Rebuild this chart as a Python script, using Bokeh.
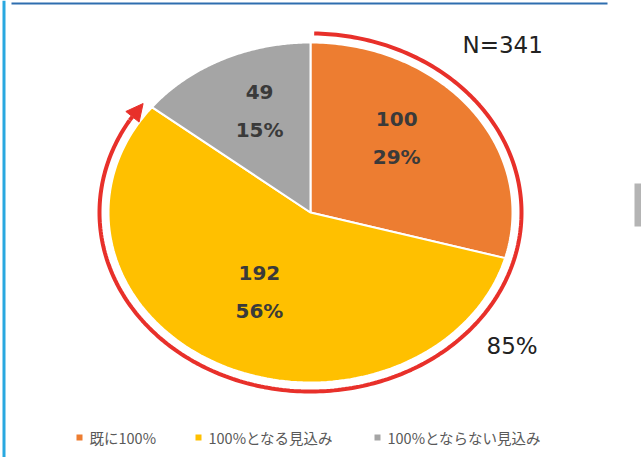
import numpy as np
from bokeh.plotting import figure
from bokeh.models import Range1d, Arrow, NormalHead
from bokeh.core.properties import value
from bokeh.embed import file_html
from bokeh.resources import INLINE

# ---- data ----
categories = ["既に100%", "100%となる見込み", "100%とならない見込み"]
counts = [100, 192, 49]
percents = ["29%", "56%", "15%"]
colors = ["#ED7D31", "#FFC000", "#A5A5A5"]
total_label = "N=341"
arc_label = "85%"

# ---- layout ----
W, H = 641, 457
cx, cy = 310, 212
ra, rb = 202, 170          # pie radii (x, y) in px
aa, ab = 211, 179          # red arc radii
label_ang = [45.6, -118.5, 112.8]
label_r = [0.61, 0.53, 0.65]

p = figure(width=W, height=H, x_range=Range1d(0, W), y_range=Range1d(H, 0),
           output_backend="svg", toolbar_location=None, min_border=0,
           outline_line_color=None, background_fill_color="white")
p.axis.visible = False
p.grid.visible = False

def ell(a, b, t):
    return cx + a * np.cos(t), cy - b * np.sin(t)

# slices, clockwise from top
total = sum(counts)
start = 90.0
xs, ys = [], []
for c in counts:
    sweep = c / total * 360.0
    t = np.radians(np.linspace(start, start - sweep, 120))
    ex, ey = ell(ra, rb, t)
    xs.append([cx] + list(ex))
    ys.append([cy] + list(ey))
    start -= sweep
p.patches(xs, ys, fill_color=colors, line_color="white", line_width=2)

# labels
for i in range(3):
    t = np.radians(label_ang[i])
    lx, ly = ell(ra * label_r[i], rb * label_r[i], t)
    for dy, txt in ((-19, str(counts[i])), (19, percents[i])):
        p.text([lx], [ly + dy], text=[txt], text_align="center",
               text_baseline="middle", text_font=value("DejaVu Sans"),
               text_font_style="bold", text_font_size="20px", text_color="#3a3a3a")

# red arc with arrow
t = np.radians(np.linspace(89, -211, 300))
axs, ays = ell(aa, ab, t)
p.line(axs, ays, line_color="#E8302A", line_width=4)
t0, t1 = np.radians(-211), np.radians(-217.5)
x0, y0 = ell(aa, ab, t0)
x1, y1 = ell(aa, ab, t1)
p.add_layout(Arrow(end=NormalHead(size=17, fill_color="#E8302A", line_color="#E8302A"),
                   x_start=float(x0), y_start=float(y0), x_end=float(x1), y_end=float(y1),
                   line_color="#E8302A", line_width=4))

# N and 85%
p.text([462], [44], text=[total_label], text_align="left", text_baseline="middle",
       text_font=value("DejaVu Sans"), text_font_size="23px", text_color="#222222")
p.text([486], [345], text=[arc_label], text_align="left", text_baseline="middle",
       text_font=value("DejaVu Sans"), text_font_size="23px", text_color="#222222")

# legend
leg_x = [79, 198, 377]
p.scatter(leg_x, [437] * 3, marker="square", size=6, fill_color=colors,
          line_color=None)
p.text([x + 10 for x in leg_x], [437] * 3, text=categories, text_align="left",
       text_baseline="middle", text_font=value("Noto Sans CJK JP"),
       text_font_size="14.5px", text_color="#595959")

# frame decorations
p.quad(left=[2], right=[5], top=[0], bottom=[H], fill_color="#29A8E0", line_color=None)
p.quad(left=[11], right=[607], top=[2], bottom=[4], fill_color="#2F6EAF", line_color=None)
p.quad(left=[634], right=[641], top=[183], bottom=[226], fill_color="#B4B4B4", line_color=None)

open("out.html", "w").write(file_html(p, INLINE))
